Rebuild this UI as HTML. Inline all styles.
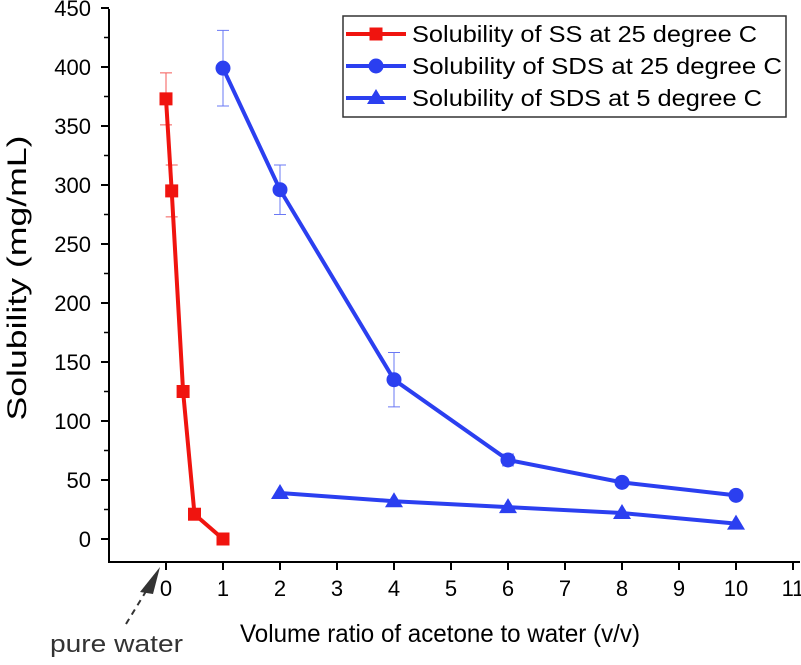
<!DOCTYPE html>
<html><head><meta charset="utf-8"><style>
body{margin:0;background:#fff;}
svg text{font-family:"Liberation Sans",sans-serif;}
</style></head><body>
<svg id="chart" width="801" height="660">
<g id="axes"></g>
<g id="series"></g>
<text transform="translate(26,278) rotate(-90)" text-anchor="middle" font-size="27" textLength="285" lengthAdjust="spacingAndGlyphs">Solubility (mg/mL)</text>
<text x="440" y="642" text-anchor="middle" font-size="25" textLength="400" lengthAdjust="spacingAndGlyphs">Volume ratio of acetone to water (v/v)</text>
<text x="50" y="652" font-size="24" fill="#333" textLength="133" lengthAdjust="spacingAndGlyphs">pure water</text>
<line x1="126" y1="624" x2="148" y2="588" stroke="#333" stroke-width="2" stroke-dasharray="6,5"/>
<polygon points="160,567 140,592 153,594" fill="#333"/>
<g>
<rect x="343" y="16" width="443" height="101" fill="#fff" stroke="#333" stroke-width="1.5"/>
<g id="legend-items"></g>
</g>
</svg>
<script>
const xTicks=[0,1,2,3,4,5,6,7,8,9,10,11];
const yTicks=[0,50,100,150,200,250,300,350,400,450];
const ssX=[0,0.1,0.3,0.5,1];
const ssY=[373,295,125,21,0];
const ssErr=[22,22,0,0,0];
const sds25X=[1,2,4,6,8,10];
const sds25Y=[399,296,135,67,48,37];
const sds25Err=[32,21,23,5,0,0];
const sds5X=[2,4,6,8,10];
const sds5Y=[39,32,27,22,13];
const legendLabels=["Solubility of SS at 25 degree C","Solubility of SDS at 25 degree C","Solubility of SDS at 5 degree C"];
const legendWidths=[345,370,350];
const NS="http://www.w3.org/2000/svg";
const xs=v=>166+v*57;
const ys=v=>539-v*59/50;
function mk(tag,attrs,parent){const e=document.createElementNS(NS,tag);for(const k in attrs)e.setAttribute(k,attrs[k]);parent.appendChild(e);return e;}
const axes=document.getElementById('axes');
let a=mk('line',{x1:109,y1:9,x2:109,y2:563,stroke:'#000','stroke-width':2},axes);


a=mk('line',{x1:108,y1:562,x2:800,y2:562,stroke:'#000','stroke-width':2},axes);


xTicks.forEach(t=>{
 const l=mk('line',{x1:xs(t),y1:562,x2:xs(t),y2:570,stroke:'#000','stroke-width':2},axes);
 
 
 const tx=mk('text',{x:xs(t),y:596,'text-anchor':'middle','font-size':22},axes);tx.textContent=t;
 
 
});
yTicks.forEach(t=>{
 const l=mk('line',{x1:101,y1:ys(t),x2:109,y2:ys(t),stroke:'#000','stroke-width':2},axes);
 
 
 const m=mk('line',{x1:104,y1:ys(t+25),x2:109,y2:ys(t+25),stroke:'#000','stroke-width':1.5},axes);
 
 
 const tx=mk('text',{x:91,y:ys(t)+8,'text-anchor':'end','font-size':22},axes);tx.textContent=t;
 
 
});
const ser=document.getElementById('series');
function marker(shape,x,y,color,g){
 let e;
 if(shape==='sq')e=mk('rect',{x:x-6.5,y:y-6.5,width:13,height:13,fill:color},g);
 else if(shape==='ci')e=mk('circle',{cx:x,cy:y,r:7.5,fill:color},g);
 else e=mk('polygon',{points:`${x},${y-9} ${x-9},${y+6} ${x+9},${y+6}`,fill:color},g);
 return e;
}
function series(X,Y,E,color,shape,name){
 const g=mk('g',{},ser);
 
 
 X.forEach((x,i)=>{if(E&&E[i]>0){
  const px=xs(x);
  const eb=mk('path',{d:`M${px},${ys(Y[i]+E[i])}V${ys(Y[i]-E[i])}M${px-6},${ys(Y[i]+E[i])}h12M${px-6},${ys(Y[i]-E[i])}h12`,stroke:color,'stroke-width':1,fill:'none',opacity:0.7},g);
  
  
 }});
 const pl=mk('polyline',{points:X.map((x,i)=>xs(x)+','+ys(Y[i])).join(' '),fill:'none',stroke:color,'stroke-width':4},g);
 
 
 X.forEach((x,i)=>{const m=marker(shape,xs(x),ys(Y[i]),color,g);
  
  });
}
series(ssX,ssY,ssErr,'#f0140f','sq','ss-25c-series');
series(sds25X,sds25Y,sds25Err,'#2b3ff0','ci','sds-25c-series');
series(sds5X,sds5Y,null,'#2b3ff0','tr','sds-5c-series');
const lg=document.getElementById('legend-items');
const lc=['#f0140f','#2b3ff0','#2b3ff0'],ls=['sq','ci','tr'];
legendLabels.forEach((t,i)=>{
 const y=34+i*32;
 const g=mk('g',{},lg);
 
 
 mk('line',{x1:346,y1:y,x2:406,y2:y,stroke:lc[i],'stroke-width':4},g);
 marker(ls[i],376,y,lc[i],g);
 const tx=mk('text',{x:412,y:y+8,'font-size':23,textLength:legendWidths[i],lengthAdjust:'spacingAndGlyphs'},g);tx.textContent=t;
});
</script>
</body></html>
